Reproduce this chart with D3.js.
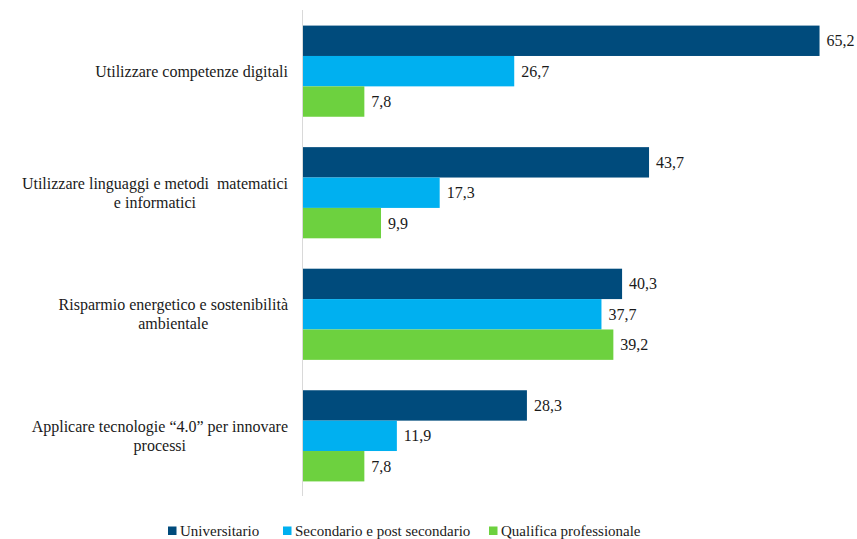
<!DOCTYPE html>
<html>
<head>
<meta charset="utf-8">
<script src="https://cdn.jsdelivr.net/npm/d3@7"></script>
<style>
  html, body { margin: 0; padding: 0; background: #ffffff; }
  svg { display: block; }
  svg text { font-family: 'Liberation Serif', 'Times New Roman', Times, 'DejaVu Serif', serif; }
</style>
</head>
<body>
<svg id="chart" width="857" height="539"></svg>
<script>
// Categories (each label split into its drawn lines)
const categories = [
  "Utilizzare competenze digitali",
  "Utilizzare linguaggi e metodi  matematici e informatici",
  "Risparmio energetico e sostenibilità ambientale",
  "Applicare tecnologie “4.0” per innovare processi"
];
const categoryLines = [
  ["Utilizzare competenze digitali"],
  ["Utilizzare linguaggi e metodi\u00a0 matematici", "e informatici"],
  ["Risparmio energetico e sostenibilità", "ambientale"],
  ["Applicare tecnologie “4.0” per innovare", "processi"]
];
const seriesNames = ["Universitario", "Secondario e post secondario", "Qualifica professionale"];
const universitario = [65.2, 43.7, 40.3, 28.3];
const secondario = [26.7, 17.3, 37.7, 11.9];
const qualifica = [7.8, 9.9, 39.2, 7.8];
const seriesColors = ["#004b7c", "#00b0f0", "#6dd13f"];

const seriesValues = [universitario, secondario, qualifica];
const rows = categories.map((c, i) => ({
  category: c,
  values: seriesNames.map((s, j) => ({ series: s, idx: j, value: seriesValues[j][i] }))
}));

const FONT = "'Liberation Serif', 'Times New Roman', Times, 'DejaVu Serif', serif";
const svg = d3.select("#chart");
const fmt = v => d3.format(".1f")(v).replace(".", ",");

const x = d3.scaleLinear().domain([0, 70]).range([302.5, 857.6]);
const y = d3.scaleBand().domain(categories).range([11, 496]).paddingInner(0.25).paddingOuter(0.12);
const ySub = d3.scaleBand().domain(seriesNames).range([0, y.bandwidth()]).padding(0);

// Category axis line
svg.append("line")
  .attr("x1", x(0)).attr("x2", x(0))
  .attr("y1", 10).attr("y2", 496)
  .attr("stroke", "#d9d9d9").attr("stroke-width", 1);

const groups = svg.selectAll("g.group")
  .data(rows)
  .join("g")
  .attr("class", "group")
  .attr("transform", d => `translate(0,${y(d.category)})`);

groups.selectAll("rect")
  .data(d => d.values)
  .join("rect")
  .attr("x", x(0) + 0.5)
  .attr("y", d => ySub(d.series))
  .attr("width", d => x(d.value) - x(0) - 0.5)
  .attr("height", ySub.bandwidth())
  .attr("fill", d => seriesColors[d.idx]);

groups.selectAll("text.value")
  .data(d => d.values)
  .join("text")
  .attr("class", "value")
  .attr("x", d => x(d.value) + 7)
  .attr("y", d => ySub(d.series) + ySub.bandwidth() / 2)
  .attr("dy", "0.35em")
  .attr("font-family", FONT)
  .attr("font-size", 16)
  .attr("fill", "#1a1a1a")
  .text(d => fmt(d.value));

// Category labels: centred multi-line blocks, right edge near the axis
const labelRight = 288;
const lineH = 19;
categories.forEach((c, i) => {
  const lines = categoryLines[i];
  const t = svg.append("text")
    .attr("font-family", FONT)
    .attr("font-size", 16)
    .attr("fill", "#1a1a1a")
    .attr("text-anchor", "middle");
  const cy = y(c) + y.bandwidth() / 2;
  const startY = cy - (lines.length - 1) * lineH / 2;
  const spans = lines.map((ln, k) => t.append("tspan")
    .attr("y", startY + k * lineH)
    .attr("dy", "0.35em")
    .text(ln));
  const maxW = d3.max(spans, s => s.node().getComputedTextLength());
  spans.forEach(s => s.attr("x", labelRight - maxW / 2));
});

// Legend
const legendItems = [
  { name: seriesNames[0], x: 168 },
  { name: seriesNames[1], x: 283 },
  { name: seriesNames[2], x: 489 }
];
const lg = svg.selectAll("g.legend")
  .data(legendItems)
  .join("g")
  .attr("class", "legend")
  .attr("transform", d => `translate(${d.x},0)`);
lg.append("rect")
  .attr("x", 0).attr("y", 526.5)
  .attr("width", 8.5).attr("height", 8.5)
  .attr("fill", (d, i) => seriesColors[i]);
lg.append("text")
  .attr("x", 12).attr("y", 536)
  .attr("font-family", FONT)
  .attr("font-size", 15)
  .attr("fill", "#1a1a1a")
  .text(d => d.name);
</script>
</body>
</html>
